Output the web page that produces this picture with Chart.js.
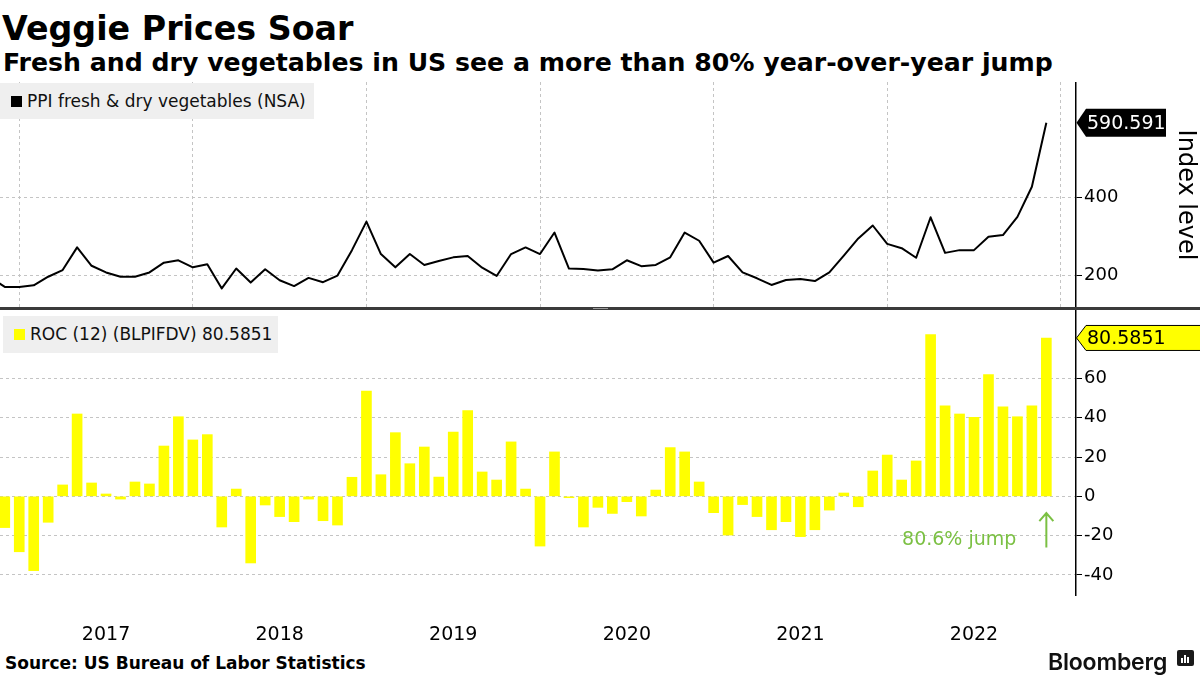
<!DOCTYPE html>
<html>
<head>
<meta charset="utf-8">
<script src="https://cdn.jsdelivr.net/npm/chart.js@4.4.1/dist/chart.umd.min.js"></script>
<style>
  body { margin: 0; background: #fff; width: 1200px; height: 675px; overflow: hidden; position: relative; font-family: "DejaVu Sans", sans-serif; }
  .abs { position: absolute; white-space: nowrap; line-height: 1; }
  #title { left: 2px; top: 9px; font: bold 33.3px "DejaVu Sans"; color: #000; }
  #subtitle { left: 3px; top: 48px; font: bold 25.2px "DejaVu Sans"; color: #000; }
  #source { left: 5px; top: 653px; font: bold 17px "DejaVu Sans"; color: #000; }
  #brand { left: 1048px; top: 648px; font: 600 23px "Inter"; color: #111; letter-spacing: -0.2px; }
  #brand-icon { left: 1177px; top: 650px; width: 17px; height: 16px; background: #1a1a1a; border-radius: 2px; }
  #brand-icon i { position: absolute; bottom: 3px; width: 2px; background: #fff; }
  canvas { position: absolute; left: 0; }
  #top { top: 82px; }
  #bottom { top: 310px; }
  .legend { position: absolute; background: #efefef; font: 17px "DejaVu Sans"; color: #111; }
  .legend .mark { position: absolute; width: 11px; height: 11px; }
  .legend span.txt { position: absolute; line-height: 1; }
  #divider { left: 0; top: 307px; width: 1200px; height: 3px; background: #3b3b3b; }
  #grip { left: 593px; top: 308px; width: 15px; height: 1px; border-top: 1px solid #9a9a9a; }
</style>
</head>
<body>
<div id="title" class="abs">Veggie Prices Soar</div>
<div id="subtitle" class="abs">Fresh and dry vegetables in US see a more than 80% year-over-year jump</div>

<canvas id="top" width="1200" height="226"></canvas>
<canvas id="bottom" width="1200" height="340"></canvas>

<div class="legend" style="left:0;top:83px;width:314px;height:36px;">
  <div class="mark" style="left:11px;top:13px;background:#000;"></div>
  <span class="txt" style="left:27px;top:10px;">PPI fresh &amp; dry vegetables (NSA)</span>
</div>
<div class="legend" style="left:3px;top:316px;width:275px;height:37px;">
  <div class="mark" style="left:11px;top:13px;background:#ffff00;"></div>
  <span class="txt" style="left:27px;top:10px;">ROC (12) (BLPIFDV) 80.5851</span>
</div>

<div id="divider" class="abs"></div>
<div id="grip" class="abs"></div>

<div id="source" class="abs">Source: US Bureau of Labor Statistics</div>
<div id="brand" class="abs">Bloomberg</div>
<div id="brand-icon" class="abs"><i style="left:4px;height:5px"></i><i style="left:7px;height:8px"></i><i style="left:10px;height:6px"></i></div>

<script>
// Monthly, Oct 2016 .. Nov 2022 (Oct 2016 only shows as the line entering from the left edge)
const months = [
  "Oct 2016", "Nov 2016", "Dec 2016",
  "Jan 2017", "Feb 2017", "Mar 2017", "Apr 2017", "May 2017", "Jun 2017", "Jul 2017", "Aug 2017", "Sep 2017", "Oct 2017", "Nov 2017", "Dec 2017",
  "Jan 2018", "Feb 2018", "Mar 2018", "Apr 2018", "May 2018", "Jun 2018", "Jul 2018", "Aug 2018", "Sep 2018", "Oct 2018", "Nov 2018", "Dec 2018",
  "Jan 2019", "Feb 2019", "Mar 2019", "Apr 2019", "May 2019", "Jun 2019", "Jul 2019", "Aug 2019", "Sep 2019", "Oct 2019", "Nov 2019", "Dec 2019",
  "Jan 2020", "Feb 2020", "Mar 2020", "Apr 2020", "May 2020", "Jun 2020", "Jul 2020", "Aug 2020", "Sep 2020", "Oct 2020", "Nov 2020", "Dec 2020",
  "Jan 2021", "Feb 2021", "Mar 2021", "Apr 2021", "May 2021", "Jun 2021", "Jul 2021", "Aug 2021", "Sep 2021", "Oct 2021", "Nov 2021", "Dec 2021",
  "Jan 2022", "Feb 2022", "Mar 2022", "Apr 2022", "May 2022", "Jun 2022", "Jul 2022", "Aug 2022", "Sep 2022", "Oct 2022", "Nov 2022"
];

// PPI fresh & dry vegetables (NSA), index level
const ppi = [
  195,
  171, 171, 175, 197, 214, 272, 225, 208, 197, 197, 208, 233, 239, 221,
  229, 167, 218, 182, 216, 188, 173, 194, 183, 200, 265, 338, 255,
  221, 255, 227, 237, 246.5, 250, 220, 199, 255, 272, 255, 310,
  218, 217, 213, 216, 239, 224, 227, 246.5, 310, 289, 233, 250,
  208, 193, 176, 188.5, 191, 186, 208, 251, 295, 328, 281, 270,
  245.5, 349, 258, 265, 265, 299, 303.5, 350, 427, 590.591
];

// ROC (12) year-over-year change, %
const roc = [
  null,
  -15.9, -28.2, -37.8, -13.2, 5.8, 41.9, 6.8, 1.2, -1.4, 7.3, 6.3, 25.6, 40.5, 28.7,
  31.4, -15.6, 3.7, -33.9, -4.4, -10.3, -12.9, -1.4, -12.4, -14.6, 9.7, 53.6, 11.0,
  32.4, 16.6, 25.1, 9.8, 32.7, 43.6, 12.4, 8.3, 27.7, 3.7, -25.3, 22.6,
  -0.7, -15.6, -5.6, -8.7, -2.7, -10.0, 3.2, 24.8, 22.6, 7.3, -8.3, -19.7,
  -4.2, -10.3, -17.0, -12.9, -20.5, -17.0, -7.0, 1.7, -5.3, 12.9, 21.0, 8.3,
  18.0, 82.3, 46.0, 41.9, 40.2, 61.9, 45.6, 40.5, 46.0, 80.5851
];

const years = ["2017", "2018", "2019", "2020", "2021", "2022"];
const yearLines = [2, 14, 26, 38, 50, 62, 74];   // month index of each Jan 1 gridline
const yearMids = [8, 20, 32, 44, 56, 68];         // where each year label sits

const topTicks = [200, 300, 400, 500, 600];
const topLabeled = [200, 400];
const topGrid = [200, 400, 600];
const bottomTicks = [-40, -30, -20, -10, 0, 10, 20, 30, 40, 50, 60, 70, 80, 90];
const bottomLabeled = [-40, -20, 0, 20, 40, 60];
const bottomGrid = [-40, -20, 0, 20, 40, 60, 80];

const X_MIN = 0.67, X_MAX = 75.05;
const GRID = "#c4c4c4";
const GREEN = "#7bc043";
const TICK_FONT = { family: "DejaVu Sans", size: 18 };

function points(values) {
  return values.map(function (v, i) { return { x: i, y: v }; });
}

function fixWidth(scale) {
  scale.width = 124;
  scale.paddingTop = 0;
  scale.paddingBottom = 0;
}

// price flag drawn on the right axis at the last value
const flagPlugin = {
  id: "flag",
  afterDraw: function (chart, args, opts) {
    const ctx = chart.ctx;
    const x = chart.chartArea.right;
    const y = chart.scales.y.getPixelForValue(opts.value);
    const h = opts.height / 2;
    ctx.save();
    ctx.beginPath();
    ctx.moveTo(x + 0.5, y);
    ctx.lineTo(x + 10, y - h);
    ctx.lineTo(x + opts.width, y - h);
    ctx.lineTo(x + opts.width, y + h);
    ctx.lineTo(x + 10, y + h);
    ctx.closePath();
    ctx.fillStyle = opts.background;
    ctx.fill();
    if (opts.border) {
      ctx.strokeStyle = opts.border;
      ctx.lineWidth = 1;
      ctx.stroke();
    }
    ctx.fillStyle = opts.color;
    ctx.font = "19px 'DejaVu Sans'";
    ctx.textBaseline = "middle";
    ctx.textAlign = "left";
    ctx.fillText(opts.text, x + 11, y + 1);
    ctx.restore();
  }
};

// "80.6% jump" note with an arrow under the last bar
const notePlugin = {
  id: "note",
  afterDatasetsDraw: function (chart) {
    const ctx = chart.ctx;
    const xs = chart.scales.x, ys = chart.scales.y;
    const last = roc.length - 1;
    const ax = xs.getPixelForValue(last);
    const top = ys.getPixelForValue(-8.5);
    const bottom = ys.getPixelForValue(-26);
    ctx.save();
    ctx.strokeStyle = GREEN;
    ctx.lineWidth = 2;
    ctx.beginPath();
    ctx.moveTo(ax, bottom);
    ctx.lineTo(ax, top);
    ctx.moveTo(ax - 7, top + 8);
    ctx.lineTo(ax, top);
    ctx.lineTo(ax + 7, top + 8);
    ctx.stroke();
    ctx.fillStyle = GREEN;
    ctx.font = "19px 'DejaVu Sans'";
    ctx.textAlign = "right";
    ctx.textBaseline = "middle";
    ctx.fillText("80.6% jump", ax - 30, ys.getPixelForValue(-22.5));
    ctx.restore();
  }
};

new Chart(document.getElementById("top"), {
  type: "line",
  data: {
    datasets: [{
      data: points(ppi),
      borderColor: "#000",
      borderWidth: 2,
      borderJoinStyle: "round",
      pointRadius: 0,
      tension: 0
    }]
  },
  options: {
    responsive: false,
    animation: false,
    layout: { padding: 0 },
    plugins: {
      legend: { display: false },
      tooltip: { enabled: false },
      flag: { value: ppi[ppi.length - 1], text: "590.591", width: 90, height: 28, background: "#000", color: "#fff" }
    },
    scales: {
      x: {
        type: "linear", min: X_MIN, max: X_MAX, offset: false,
        afterBuildTicks: function (s) { s.ticks = yearLines.map(function (v) { return { value: v }; }); },
        afterFit: function (s) { s.height = 0; s.paddingLeft = 0; s.paddingRight = 0; },
        ticks: { display: false },
        grid: { color: GRID, drawTicks: false, offset: false },
        border: { display: false, dash: [3, 3] }
      },
      y: {
        position: "right", min: 117, max: 695,
        afterBuildTicks: function (s) { s.ticks = topTicks.map(function (v) { return { value: v }; }); },
        afterFit: fixWidth,
        ticks: {
          font: TICK_FONT, color: "#000", padding: 2,
          callback: function (v) { return topLabeled.indexOf(v) >= 0 ? String(v) : null; }
        },
        grid: {
          color: function (c) { return c.tick && topGrid.indexOf(c.tick.value) >= 0 ? GRID : "transparent"; },
          tickColor: "#000", tickLength: 6
        },
        border: { display: true, color: "#000", width: 1.5, dash: [3, 3] },
        title: { display: true, text: "Index level", color: "#000", font: { family: "DejaVu Sans", size: 24 }, padding: 0 }
      }
    }
  },
  plugins: [flagPlugin]
});

new Chart(document.getElementById("bottom"), {
  type: "bar",
  data: {
    datasets: [{
      data: points(roc),
      backgroundColor: "#ffff00",
      borderWidth: 0,
      barThickness: 10
    }]
  },
  options: {
    responsive: false,
    animation: false,
    layout: { padding: { top: 1 } },
    plugins: {
      legend: { display: false },
      tooltip: { enabled: false },
      flag: { value: roc[roc.length - 1], text: "80.5851", width: 130, height: 25, background: "#ffff00", border: "#000", color: "#000" }
    },
    scales: {
      x: {
        type: "linear", min: X_MIN, max: X_MAX, offset: false,
        afterBuildTicks: function (s) {
          s.ticks = yearLines.concat(yearMids).sort(function (a, b) { return a - b; })
            .map(function (v) { return { value: v }; });
        },
        afterFit: function (s) { s.height = 55; s.paddingLeft = 0; s.paddingRight = 0; },
        ticks: {
          font: { family: "DejaVu Sans", size: 19 }, color: "#000", padding: 29,
          autoSkip: false, maxRotation: 0,
          callback: function (v) { const k = yearMids.indexOf(v); return k >= 0 ? years[k] : null; }
        },
        grid: {
          color: function (c) { return c.tick && yearLines.indexOf(c.tick.value) >= 0 ? GRID : "transparent"; },
          drawTicks: false, offset: false
        },
        border: { display: false, dash: [3, 3] }
      },
      y: {
        position: "right", min: -50.2, max: 94.3,
        afterBuildTicks: function (s) { s.ticks = bottomTicks.map(function (v) { return { value: v }; }); },
        afterFit: fixWidth,
        ticks: {
          font: TICK_FONT, color: "#000", padding: 2,
          callback: function (v) { return bottomLabeled.indexOf(v) >= 0 ? String(v) : null; }
        },
        grid: {
          color: function (c) { return c.tick && bottomGrid.indexOf(c.tick.value) >= 0 ? GRID : "transparent"; },
          tickColor: "#000", tickLength: 6
        },
        border: { display: true, color: "#000", width: 1.5, dash: [3, 3] }
      }
    }
  },
  plugins: [flagPlugin, notePlugin]
});
</script>
</body>
</html>
